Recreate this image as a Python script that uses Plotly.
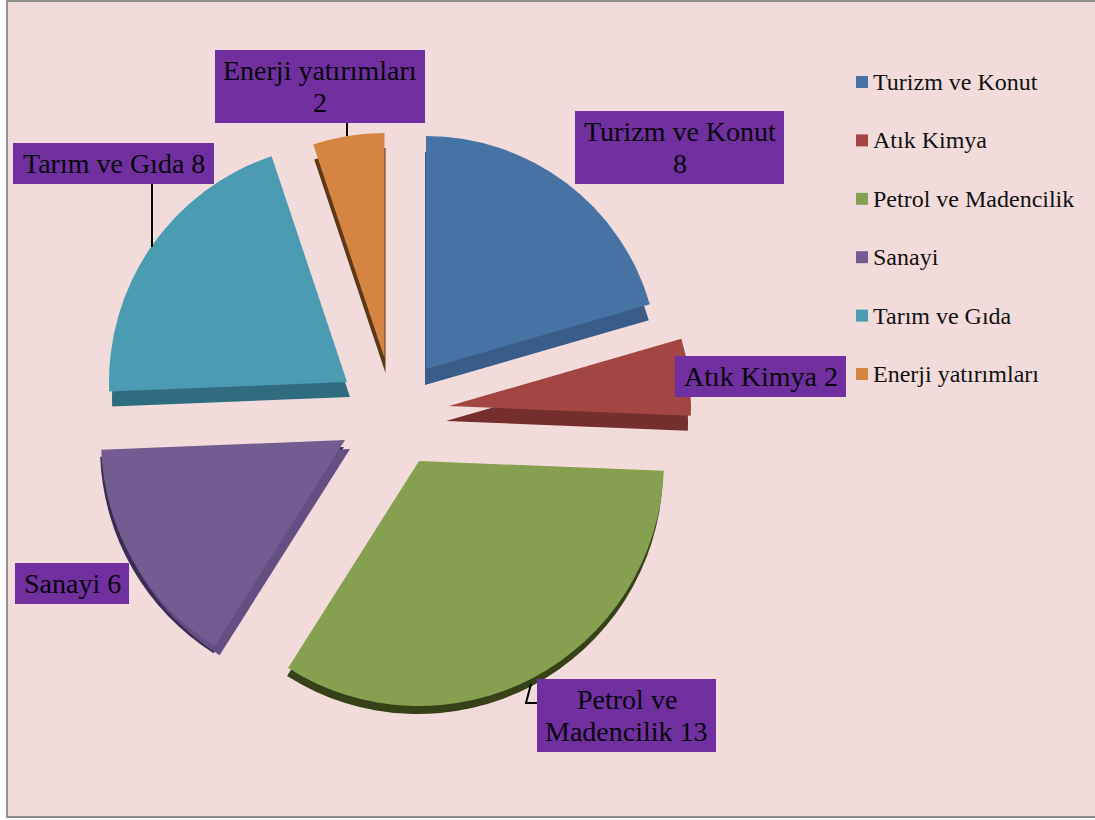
import plotly.graph_objects as go

# Sector investment counts
categories = ["Turizm ve Konut", "Atık Kimya", "Petrol ve Madencilik", "Sanayi", "Tarım ve Gıda", "Enerji yatırımları"]
values = [8, 2, 13, 6, 8, 2]
label_templates = [["Turizm ve Konut", "{}"], ["Atık Kimya {}"], ["Petrol ve", "Madencilik {}"],
                   ["Sanayi {}"], ["Tarım ve Gıda {}"], ["Enerji yatırımları", "{}"]]

face_colors = ["#4672A4", "#A34643", "#86A04F", "#735C8F", "#4B9BB2", "#D58442"]

W, H = 1095, 820
SERIF = "Liberation Serif"
PURPLE = "#7030A0"
CLEAR = "rgba(0,0,0,0)"
LABEL_LINE = 31.5


def px(x):
    return x / W


def py(y):
    return 1 - y / H


# Exploded layout: apex position and radius of each wedge, in page pixels
wedge_layout = [
    (426, 369, 233),
    (449, 406, 242),
    (419, 461, 245),
    (345, 440, 244),
    (347, 382, 238),
    (384.5, 358, 225),
]

# Extruded sides of each wedge: (dx, dy, colour), drawn beneath the top face
wedge_sides = [
    [(-1, 16, "#3A5C89")],
    [(-3, 15, "#752D2D")],
    [(-1, 8, "#36411A")],
    [(-1, 7, "#3A2D55"), (5, 9, "#654F82")],
    [(3, 15, "#2F6C7E")],
    [(1, 15, "#5C3A18")],
]

# Data label boxes: left, top, right, bottom
label_boxes = [
    (575, 111, 784, 184),
    (675, 356, 846, 397),
    (537, 679, 716, 752),
    (15, 563, 129, 604),
    (13, 143, 214, 184),
    (215, 50, 425, 123),
]

# Legend geometry
LEGEND_SWATCH_X = 856
LEGEND_TEXT_X = 871
LEGEND_FIRST_ROW = 82
LEGEND_ROW_STEP = 58.4
SWATCH = 12

fig = go.Figure()


def add_wedge(index, cx, cy, radius, color):
    """One sector of the pie; the other sectors stay transparent."""
    colors = [CLEAR] * len(values)
    colors[index] = color
    fig.add_trace(go.Pie(
        labels=categories, values=values, sort=False, direction="clockwise", rotation=0,
        textinfo="none", hoverinfo="label+value", showlegend=False,
        marker=dict(colors=colors, line=dict(width=0)),
        domain=dict(x=[px(cx - radius), px(cx + radius)], y=[py(cy + radius), py(cy - radius)]),
    ))


for i, ((cx, cy, r), sides) in enumerate(zip(wedge_layout, wedge_sides)):
    for dx, dy, side_color in sides:
        add_wedge(i, cx + dx, cy + dy, r, side_color)
    add_wedge(i, cx, cy, r, face_colors[i])

annotations = []
shapes = [
    # Chart area
    dict(type="rect", xref="paper", yref="paper", layer="below",
         x0=px(7), y0=py(1), x1=px(1100), y1=py(817),
         fillcolor="#F2DCDB", line=dict(color="#8E8E8E", width=2)),
]

# Leader lines that tie labels to their wedges
leader = dict(type="path", xref="paper", yref="paper", line=dict(color="black", width=2))
shapes += [
    dict(leader, path=f"M{px(347)},{py(123)} L{px(347)},{py(136)}"),
    dict(leader, path=f"M{px(152)},{py(184)} L{px(152)},{py(247)}"),
    dict(leader, path=f"M{px(531)},{py(684)} L{px(526)},{py(703)} L{px(537)},{py(703)}"),
]

# Data labels: a filled box with its lines of text set at a tight leading
for lines, value, (left, top, right, bottom) in zip(label_templates, values, label_boxes):
    shapes.append(dict(type="rect", xref="paper", yref="paper",
                       x0=px(left), y0=py(top), x1=px(right), y1=py(bottom),
                       fillcolor=PURPLE, line=dict(width=0)))
    middle = (top + bottom) / 2
    first = middle - LABEL_LINE * (len(lines) - 1) / 2
    for n, line in enumerate(lines):
        annotations.append(dict(
            text=line.format(value), xref="paper", yref="paper",
            x=px((left + right) / 2), y=py(first + n * LABEL_LINE),
            xanchor="center", yanchor="middle", showarrow=False,
            font=dict(family=SERIF, size=28, color="#08050C"),
        ))

# Legend rows: swatch and name
for n, (name, color) in enumerate(zip(categories, face_colors)):
    row = LEGEND_FIRST_ROW + n * LEGEND_ROW_STEP
    shapes.append(dict(type="rect", xref="paper", yref="paper",
                       x0=px(LEGEND_SWATCH_X), x1=px(LEGEND_SWATCH_X + SWATCH),
                       y0=py(row - SWATCH / 2), y1=py(row + SWATCH / 2),
                       fillcolor=color, line=dict(width=0)))
    annotations.append(dict(
        text=name, xref="paper", yref="paper", x=px(LEGEND_TEXT_X), y=py(row),
        xanchor="left", yanchor="middle", showarrow=False,
        font=dict(family=SERIF, size=24, color="#111111"),
    ))

fig.update_layout(
    width=W, height=H, margin=dict(l=0, r=0, t=0, b=0),
    paper_bgcolor="white", showlegend=False,
    annotations=annotations, shapes=shapes,
)

fig.write_html("out.html")
